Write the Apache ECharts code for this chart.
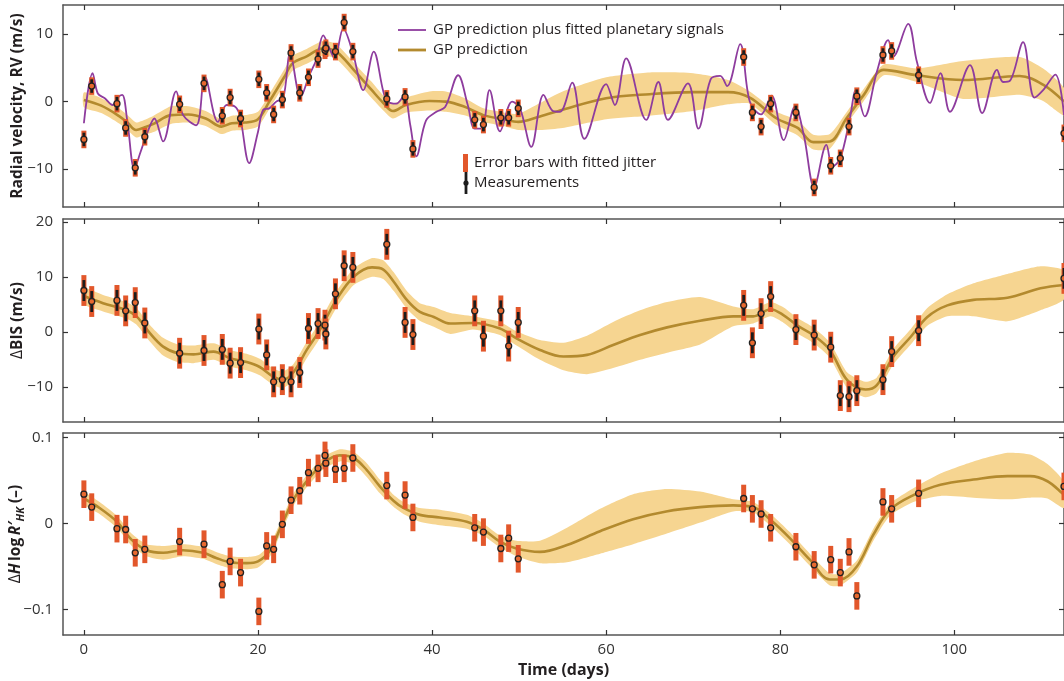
<!DOCTYPE html>
<html>
<head>
<meta charset="utf-8">
<script src="https://cdn.jsdelivr.net/npm/echarts@6/dist/echarts.min.js"></script>
<style>
  html, body { margin: 0; padding: 0; background: #fff; }
  #main { width: 1064px; height: 681px; }
</style>
</head>
<body>
<div id="main"></div>
<script>
// observation epochs (days)
var obsT = [0, 0.9, 3.8, 4.8, 5.9, 7.0, 11.0, 13.8, 15.9, 16.8, 18.0, 20.1, 21.0, 21.8, 22.8, 23.8, 24.8, 25.8, 26.9, 27.7, 27.8, 28.9, 29.9, 30.9, 34.8, 36.9, 37.8, 44.9, 45.9, 47.9, 48.8, 49.9, 75.8, 76.8, 77.8, 78.9, 81.8, 83.9, 85.8, 86.9, 87.9, 88.8, 91.8, 92.8, 95.9, 112.6];
// measurements
var obsRV = [-5.6, 2.3, -0.3, -3.9, -9.8, -5.2, -0.4, 2.7, -2.1, 0.6, -2.5, 3.3, 1.3, -1.9, 0.3, 7.2, 1.3, 3.6, 6.3, 7.6, 7.9, 7.4, 11.7, 7.4, 0.4, 0.7, -7.0, -2.7, -3.4, -2.4, -2.4, -1.0, 6.6, -1.6, -3.7, -0.3, -1.6, -12.7, -9.5, -8.4, -3.7, 0.8, 6.9, 7.5, 3.9, -4.7];
var obsBIS = [7.5, 5.5, 5.7, 3.8, 5.3, 1.6, -3.9, -3.4, -3.2, -5.7, -5.6, 0.5, -4.2, -9.1, -8.7, -9.1, -7.4, 0.6, 1.5, 1.2, -0.4, 6.9, 12.0, 11.7, 15.9, 1.7, -0.5, 3.8, -0.8, 3.8, -2.6, 1.7, 4.8, -2.0, 3.3, 6.4, 0.4, -0.6, -2.8, -11.6, -11.8, -10.7, -8.7, -3.6, 0.2, 9.7];
var obsHK = [0.034, 0.019, -0.006, -0.007, -0.034, -0.030, -0.021, -0.024, -0.071, -0.044, -0.057, -0.102, -0.026, -0.030, -0.001, 0.027, 0.038, 0.059, 0.064, 0.079, 0.070, 0.063, 0.064, 0.076, 0.044, 0.033, 0.007, -0.005, -0.010, -0.029, -0.017, -0.041, 0.029, 0.017, 0.011, -0.005, -0.027, -0.048, -0.042, -0.057, -0.033, -0.084, 0.025, 0.017, 0.035, 0.043];

// error bar half lengths: [with fitted jitter, measurement only]
var errRV = [1.3, 1.0];
var errBIS = [2.8, 1.9];
var errHK = [0.016, 0];

// GP prediction: [time, mean, 1-sigma half width]
var rvGp = [[0, 0.25, 1.1], [2, -0.6, 1.1], [4, -2.1, 1.1], [5, -3.1, 1.1], [6, -4.2, 1.1], [7, -3.8, 1.1], [8, -3.3, 1.2], [10, -2.0, 1.3], [12, -1.9, 1.2], [14, -2.5, 1.1], [15.8, -3.7, 1.1], [17, -3.2, 1.1], [18.5, -3.1, 1.1], [20, -2.6, 1.1], [21.3, 0.0, 1.1], [23, 3.6, 1.1], [24, 5.7, 1.1], [25.6, 6.7, 1.1], [27.5, 7.9, 1.1], [29, 7.4, 1.1], [31, 4.7, 1.1], [33, 1.8, 1.2], [34.4, -0.2, 1.1], [35.5, -1.4, 1.1], [37, -0.5, 1.1], [39.7, 0.1, 1.4], [41.6, 0.0, 1.5], [43.6, -0.7, 1.3], [45.9, -2.0, 1.0], [48.2, -2.6, 1.0], [49.9, -3.0, 1.2], [52.4, -2.2, 2.0], [55, -1.2, 2.7], [60, 0.5, 3.1], [65, 1.1, 3.2], [70, 1.4, 2.8], [74, 1.4, 1.8], [76.5, 0.6, 0.9], [79.6, -2.5, 1.0], [82, -3.9, 1.1], [83.8, -6.0, 1.1], [85.7, -5.9, 1.1], [87.6, -2.5, 0.9], [89.6, 1.0, 0.9], [91.9, 4.7, 0.8], [95.7, 3.9, 1.0], [101, 3.2, 2.8], [107.5, 3.8, 2.8], [110.2, 2.5, 2.4], [112.6, 0.0, 2.0]];
var bisGp = [[0, 6.5, 1.5], [2.2, 5.2, 1.5], [4.9, 3.9, 1.5], [6.1, 2.7, 1.5], [7.6, -0.3, 1.5], [9.1, -2.7, 1.6], [10.8, -3.9, 1.6], [12.6, -4.1, 1.6], [14.9, -3.6, 1.5], [16.8, -4.8, 1.5], [18.7, -5.5, 1.5], [20.2, -6.4, 1.5], [21.8, -8.2, 1.5], [22.9, -8.7, 1.5], [24.1, -7.3, 1.5], [25.6, -3.3, 1.5], [27.1, 0.3, 1.5], [29.0, 5.8, 1.5], [31.0, 10.0, 1.5], [33.1, 11.7, 1.7], [34.4, 11.3, 1.7], [35.6, 9.1, 1.7], [37.1, 5.8, 1.6], [38.6, 3.6, 1.6], [40.2, 2.7, 1.8], [42.1, 1.5, 1.9], [44.7, 1.6, 1.2], [47.8, 0.6, 1.2], [49.7, -1.2, 1.3], [52.4, -3.3, 1.8], [55.1, -4.5, 2.5], [57.8, -4.2, 3.5], [60.8, -2.4, 4.2], [63.9, -0.6, 4.5], [67.0, 0.8, 4.6], [70.8, 2.0, 4.3], [74.6, 2.8, 1.8], [76.9, 2.8, 1.3], [78.9, 4.1, 1.3], [80.4, 3.0, 1.4], [81.9, 1.2, 1.4], [83.8, -0.6, 1.4], [85.7, -3.3, 1.4], [87.7, -8.8, 1.4], [89.8, -10.5, 1.4], [91.1, -9.7, 1.4], [93.0, -4.5, 1.4], [95.0, -0.9, 1.4], [96.9, 2.7, 1.6], [99.2, 4.8, 2.0], [102.2, 5.8, 3.0], [106.1, 6.2, 4.3], [109.9, 7.9, 4.0], [112.6, 8.5, 2.6]];
var hkGp = [[0, 0.029, 0.007], [1.8, 0.018, 0.007], [3.8, 0.002, 0.007], [5.5, -0.019, 0.007], [7.2, -0.031, 0.007], [9.1, -0.034, 0.008], [11.4, -0.031, 0.007], [13.7, -0.034, 0.007], [15.2, -0.040, 0.007], [16.8, -0.045, 0.007], [18.7, -0.046, 0.007], [20.0, -0.044, 0.007], [21.4, -0.031, 0.007], [22.5, -0.007, 0.007], [24.1, 0.028, 0.007], [25.6, 0.049, 0.007], [27.5, 0.070, 0.007], [29.4, 0.079, 0.007], [31.0, 0.076, 0.007], [32.5, 0.062, 0.008], [34.0, 0.043, 0.008], [35.6, 0.026, 0.007], [36.7, 0.018, 0.007], [38.6, 0.010, 0.008], [40.9, 0.007, 0.009], [44.0, 0.002, 0.008], [45.9, -0.007, 0.007], [47.8, -0.021, 0.007], [49.7, -0.029, 0.009], [52.4, -0.033, 0.013], [55.5, -0.025, 0.020], [59.3, -0.009, 0.026], [63.1, 0.005, 0.029], [66.9, 0.014, 0.026], [70.8, 0.019, 0.018], [74.6, 0.021, 0.007], [76.9, 0.019, 0.006], [78.9, 0.004, 0.007], [81.1, -0.017, 0.007], [83.4, -0.042, 0.007], [85.7, -0.065, 0.007], [86.9, -0.065, 0.007], [88.8, -0.050, 0.007], [90.7, -0.013, 0.007], [92.6, 0.016, 0.007], [95.3, 0.033, 0.008], [98.4, 0.045, 0.013], [102.2, 0.051, 0.021], [106.1, 0.055, 0.027], [108.7, 0.055, 0.025], [110.7, 0.049, 0.020], [112.6, 0.033, 0.015]];

// GP prediction plus fitted planetary signals (RV only): [time, value]
var rvModel = [[0, -3.2], [1.0, 4.2], [1.6, 1.2], [2.4, 0.5], [3.3, -0.5], [3.9, 0.6], [4.4, 1.0], [5.0, -3.0], [5.8, -9.9], [6.5, -7.5], [7.2, -4.9], [8.1, -2.5], [9.1, -5.9], [10.6, 1.5], [11.4, -2.0], [12.9, -3.5], [13.9, 3.7], [15.4, -3.0], [16.4, -0.5], [17.3, -0.7], [17.9, -2.0], [19.0, -9.1], [20.0, -4.5], [20.6, -1.2], [21.3, -1.0], [22.1, 0.0], [22.9, 0.5], [23.7, 7.1], [24.9, 0.7], [25.9, 3.9], [26.7, 6.2], [27.5, 9.8], [28.2, 7.9], [28.8, 6.4], [29.8, 10.8], [30.9, 7.2], [32.1, 1.7], [33.3, 7.4], [34.4, 1.5], [34.9, 0.0], [35.9, -0.3], [36.8, 0.9], [37.5, -3.5], [38.2, -8.1], [39.3, -2.8], [40.5, -1.5], [41.5, -0.8], [43.0, 3.9], [44.1, -0.5], [44.9, -4.0], [45.7, -4.0], [46.6, 1.7], [47.8, -4.4], [49.2, 0.0], [50.1, -1.0], [51.4, -6.7], [52.8, 1.0], [53.9, -1.4], [54.7, -1.5], [56.1, 2.8], [57.5, -5.5], [60.0, 2.6], [61.0, -0.5], [62.3, 6.4], [64.6, -2.7], [66.0, 2.9], [67.1, -2.7], [69.4, 2.7], [70.6, -4.0], [72.0, 3.3], [73.1, 3.8], [73.9, 2.3], [75.4, 8.5], [76.5, 0.0], [77.8, -1.9], [79.0, 0.9], [80.4, -5.7], [81.7, -0.7], [82.7, -4.9], [83.9, -12.6], [85.3, -6.4], [86.0, -9.6], [86.9, -8.4], [88.0, -2.5], [88.7, 1.7], [89.7, -2.2], [91.1, 4.4], [92.4, 9.1], [93.0, 6.7], [94.7, 11.5], [95.7, 5.9], [97.2, -0.2], [98.4, 4.2], [99.5, -1.5], [101.8, 5.4], [103.2, -1.7], [104.9, 4.7], [105.6, 2.9], [106.4, 3.1], [107.9, 8.8], [109.2, 0.6], [110.2, 1.7], [111.6, 4.0], [112.6, -2.0]];

// tick labels
var xTicks = [0, 20, 40, 60, 80, 100];
var rvTicks = [-10, 0, 10];
var bisTicks = [-10, 0, 10, 20];
var hkTicks = [-0.1, 0, 0.1];

var FONT = "'Open Sans', 'Noto Sans', sans-serif";
var purple = '#8e3c9e';
var gold = '#b38a2e';
var bandFill = '#f6d591';
var barOrange = '#e2572b';
var dotFill = '#e8692f';

function minus(v) { return String(v).replace('-', '\u2212'); }

var ranges = [[-15.6, 14.3], [-16.4, 20.5], [-0.1294, 0.105]];
var yTicks = [rvTicks, bisTicks, hkTicks];

var xAxes = [], yAxes = [];
for (var g = 0; g < 3; g++) {
  var isLast = g === 2;
  ['bottom', 'top'].forEach(function (pos) {
    xAxes.push({
      type: 'value', gridIndex: g, position: pos, min: -2.4, max: 112.6,
      axisLine: { show: true, onZero: false, lineStyle: { color: '#555', width: 1.5 } },
      axisTick: { show: true, inside: true, length: 5, customValues: xTicks, lineStyle: { color: '#333', width: 1.2 } },
      axisLabel: { show: isLast && pos === 'bottom', customValues: xTicks, margin: 7, fontFamily: FONT, fontSize: 15, color: '#333' },
      splitLine: { show: false },
      name: isLast && pos === 'bottom' ? 'Time (days)' : '',
      nameLocation: 'middle', nameGap: 27, nameMoveOverlap: false,
      nameTextStyle: { fontFamily: FONT, fontWeight: 'bold', fontSize: 16, color: '#231f20' }
    });
  });
  ['left', 'right'].forEach(function (pos) {
    yAxes.push({
      type: 'value', gridIndex: g, position: pos, min: ranges[g][0], max: ranges[g][1],
      axisLine: { show: true, onZero: false, lineStyle: { color: '#555', width: 1.5 } },
      axisTick: { show: true, inside: true, length: 5, customValues: yTicks[g], lineStyle: { color: '#333', width: 1.2 } },
      axisLabel: { show: pos === 'left', customValues: yTicks[g], margin: 10, fontFamily: FONT, fontSize: 15, color: '#333', formatter: minus },
      splitLine: { show: false }
    });
  });
}
var nameStyle = { fontFamily: FONT, fontWeight: 'bold', fontSize: 15.5, color: '#231f20' };
yAxes[0].name = 'Radial velocity, RV (m/s)';
yAxes[2].name = '{d|\u0394}BIS (m/s)';
yAxes[4].name = '{d|\u0394}{i|H}\u2009log\u2009{i|R\u2032}{s|HK} (\u2013)';
[0, 2, 4].forEach(function (k) {
  yAxes[k].nameLocation = 'middle';
  yAxes[k].nameGap = 37;
  yAxes[k].nameMoveOverlap = false;
  yAxes[k].nameTextStyle = Object.assign({}, nameStyle, {
    rich: {
      d: { fontFamily: FONT, fontWeight: 'normal', fontSize: 15.5, color: '#231f20' },
      i: { fontFamily: FONT, fontWeight: 'bold', fontStyle: 'italic', fontSize: 15.5, color: '#231f20' },
      s: { fontFamily: FONT, fontWeight: 'bold', fontStyle: 'italic', fontSize: 11, color: '#231f20', padding: [9, 0, 0, 0] }
    }
  });
});

function bandSeries(g, rows) {
  return {
    type: 'custom', xAxisIndex: g * 2, yAxisIndex: g * 2, silent: true, z: 1,
    data: rows.map(function (r) { return [r[0], r[1] - r[2], r[1] + r[2]]; }),
    renderItem: function (params, api) {
      if (params.dataIndex !== 0) return;
      var up = rows.map(function (r) { return api.coord([r[0], r[1] + r[2]]); });
      var lo = rows.map(function (r) { return api.coord([r[0], r[1] - r[2]]); }).reverse();
      return { type: 'polygon', shape: { points: up.concat(lo), smooth: 0.2 }, style: { fill: bandFill } };
    }
  };
}
function lineSeries(g, pts, color, width, z) {
  return {
    type: 'line', xAxisIndex: g * 2, yAxisIndex: g * 2, data: pts, smooth: 0.35,
    showSymbol: false, silent: true, z: z,
    lineStyle: { color: color, width: width }
  };
}
function errSeries(g, vals, err) {
  return {
    type: 'custom', xAxisIndex: g * 2, yAxisIndex: g * 2, silent: true, z: 4,
    data: obsT.map(function (t, i) { return [t, vals[i]]; }),
    renderItem: function (params, api) {
      var t = api.value(0), v = api.value(1);
      var a = api.coord([t, v + err[0]]), b = api.coord([t, v - err[0]]);
      var kids = [{ type: 'rect', shape: { x: a[0] - 2.5, y: a[1], width: 5, height: b[1] - a[1] }, style: { fill: barOrange } }];
      if (err[1] > 0) {
        var c = api.coord([t, v + err[1]]), d = api.coord([t, v - err[1]]);
        kids.push({ type: 'rect', shape: { x: c[0] - 1.4, y: c[1], width: 2.8, height: d[1] - c[1] }, style: { fill: '#1c1c1c' } });
      }
      return { type: 'group', children: kids };
    }
  };
}
function dotSeries(g, vals) {
  return {
    type: 'scatter', xAxisIndex: g * 2, yAxisIndex: g * 2, silent: true, z: 5,
    data: obsT.map(function (t, i) { return [t, vals[i]]; }),
    symbol: 'circle', symbolSize: 6,
    itemStyle: { color: dotFill, borderColor: '#222', borderWidth: 1.3, opacity: 1 }
  };
}

var series = [
  bandSeries(0, rvGp), bandSeries(1, bisGp), bandSeries(2, hkGp),
  lineSeries(0, rvGp.map(function (r) { return [r[0], r[1]]; }), gold, 2.6, 2),
  lineSeries(1, bisGp.map(function (r) { return [r[0], r[1]]; }), gold, 2.6, 2),
  lineSeries(2, hkGp.map(function (r) { return [r[0], r[1]]; }), gold, 2.6, 2),
  lineSeries(0, rvModel, purple, 1.8, 3),
  errSeries(0, obsRV, errRV), errSeries(1, obsBIS, errBIS), errSeries(2, obsHK, errHK),
  dotSeries(0, obsRV), dotSeries(1, obsBIS), dotSeries(2, obsHK)
];

var legendText = { fontFamily: FONT, fontSize: 15, fill: '#231f20', verticalAlign: 'middle' };
var graphic = [
  { type: 'line', shape: { x1: 398, y1: 30, x2: 426, y2: 30 }, style: { stroke: purple, lineWidth: 1.8 }, z: 10 },
  { type: 'text', x: 433, y: 30, style: Object.assign({ text: 'GP prediction plus fitted planetary signals' }, legendText), z: 10 },
  { type: 'line', shape: { x1: 398, y1: 50, x2: 426, y2: 50 }, style: { stroke: gold, lineWidth: 2.8 }, z: 10 },
  { type: 'text', x: 433, y: 50, style: Object.assign({ text: 'GP prediction' }, legendText), z: 10 },
  { type: 'rect', shape: { x: 463, y: 154, width: 5, height: 18 }, style: { fill: barOrange }, z: 10 },
  { type: 'text', x: 474, y: 163, style: Object.assign({ text: 'Error bars with fitted jitter' }, legendText), z: 10 },
  { type: 'rect', shape: { x: 464.6, y: 172, width: 2.8, height: 22 }, style: { fill: '#1c1c1c' }, z: 10 },
  { type: 'circle', shape: { cx: 466, cy: 183, r: 2.6 }, style: { fill: '#1c1c1c' }, z: 11 },
  { type: 'text', x: 474, y: 183, style: Object.assign({ text: 'Measurements' }, legendText), z: 10 }
];

var chart = echarts.init(document.getElementById('main'), null, { renderer: 'canvas' });
chart.setOption({
  animation: false,
  backgroundColor: '#fff',
  grid: [
    { left: 63, right: 0, top: 5, height: 202, outerBoundsMode: 'none' },
    { left: 63, right: 0, top: 219, height: 203, outerBoundsMode: 'none' },
    { left: 63, right: 0, top: 433, height: 202, outerBoundsMode: 'none' }
  ],
  xAxis: xAxes,
  yAxis: yAxes,
  series: series,
  graphic: graphic
});
</script>
</body>
</html>
